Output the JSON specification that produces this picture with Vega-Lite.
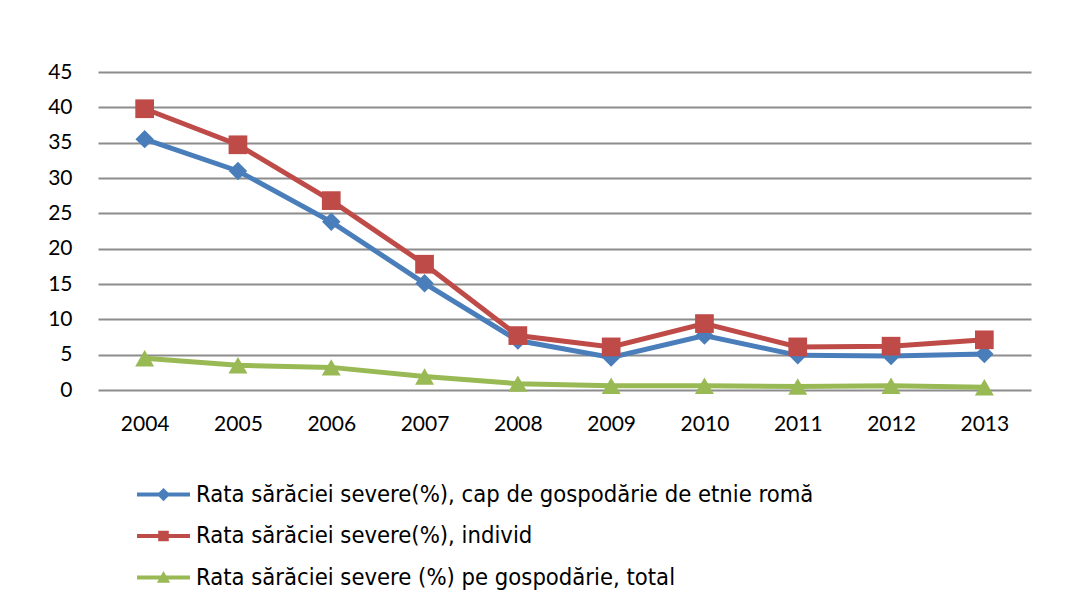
{
  "$schema": "https://vega.github.io/schema/vega-lite/v6.json",
  "autosize": "none",
  "width": 933,
  "height": 318,
  "padding": {"left": 98, "top": 72, "right": 46, "bottom": 200},
  "background": "white",
  "config": {
    "view": {"stroke": null},
    "axis": {"labelFont": "Lato", "labelFontSize": 21, "labelColor": "#000000", "ticks": false, "domain": false, "title": null}
  },
  "data": {
    "values": [
      {"year": "2004", "series": "Rata sărăciei severe(%), cap de gospodărie de etnie romă", "value": 35.5},
      {"year": "2005", "series": "Rata sărăciei severe(%), cap de gospodărie de etnie romă", "value": 31.0},
      {"year": "2006", "series": "Rata sărăciei severe(%), cap de gospodărie de etnie romă", "value": 23.8},
      {"year": "2007", "series": "Rata sărăciei severe(%), cap de gospodărie de etnie romă", "value": 15.1},
      {"year": "2008", "series": "Rata sărăciei severe(%), cap de gospodărie de etnie romă", "value": 7.0},
      {"year": "2009", "series": "Rata sărăciei severe(%), cap de gospodărie de etnie romă", "value": 4.6},
      {"year": "2010", "series": "Rata sărăciei severe(%), cap de gospodărie de etnie romă", "value": 7.7},
      {"year": "2011", "series": "Rata sărăciei severe(%), cap de gospodărie de etnie romă", "value": 4.9},
      {"year": "2012", "series": "Rata sărăciei severe(%), cap de gospodărie de etnie romă", "value": 4.8},
      {"year": "2013", "series": "Rata sărăciei severe(%), cap de gospodărie de etnie romă", "value": 5.1},
      {"year": "2004", "series": "Rata sărăciei severe(%), individ", "value": 39.8},
      {"year": "2005", "series": "Rata sărăciei severe(%), individ", "value": 34.7},
      {"year": "2006", "series": "Rata sărăciei severe(%), individ", "value": 26.8},
      {"year": "2007", "series": "Rata sărăciei severe(%), individ", "value": 17.8},
      {"year": "2008", "series": "Rata sărăciei severe(%), individ", "value": 7.7},
      {"year": "2009", "series": "Rata sărăciei severe(%), individ", "value": 6.1},
      {"year": "2010", "series": "Rata sărăciei severe(%), individ", "value": 9.4},
      {"year": "2011", "series": "Rata sărăciei severe(%), individ", "value": 6.1},
      {"year": "2012", "series": "Rata sărăciei severe(%), individ", "value": 6.2},
      {"year": "2013", "series": "Rata sărăciei severe(%), individ", "value": 7.1},
      {"year": "2004", "series": "Rata sărăciei severe (%) pe gospodărie, total", "value": 4.5},
      {"year": "2005", "series": "Rata sărăciei severe (%) pe gospodărie, total", "value": 3.5},
      {"year": "2006", "series": "Rata sărăciei severe (%) pe gospodărie, total", "value": 3.2},
      {"year": "2007", "series": "Rata sărăciei severe (%) pe gospodărie, total", "value": 1.9},
      {"year": "2008", "series": "Rata sărăciei severe (%) pe gospodărie, total", "value": 0.9},
      {"year": "2009", "series": "Rata sărăciei severe (%) pe gospodărie, total", "value": 0.6},
      {"year": "2010", "series": "Rata sărăciei severe (%) pe gospodărie, total", "value": 0.6},
      {"year": "2011", "series": "Rata sărăciei severe (%) pe gospodărie, total", "value": 0.5},
      {"year": "2012", "series": "Rata sărăciei severe (%) pe gospodărie, total", "value": 0.6},
      {"year": "2013", "series": "Rata sărăciei severe (%) pe gospodărie, total", "value": 0.4}
    ]
  },
  "encoding": {
    "x": {
      "field": "year", "type": "ordinal",
      "scale": {"type": "point", "padding": 0.5},
      "axis": {"labelAngle": 0, "labelPadding": 23, "grid": false}
    },
    "y": {
      "field": "value", "type": "quantitative",
      "scale": {"domain": [0, 45], "nice": false},
      "axis": {"values": [0, 5, 10, 15, 20, 25, 30, 35, 40, 45], "labelPadding": 26, "grid": true, "gridColor": "#8c8c8c", "gridWidth": 2}
    }
  },
  "resolve": {"scale": {"color": "independent", "shape": "independent"}},
  "layer": [
    {
      "mark": {"type": "line", "strokeWidth": 5},
      "encoding": {
        "color": {
          "field": "series", "type": "nominal", "legend": null,
          "scale": {
            "domain": ["Rata sărăciei severe(%), cap de gospodărie de etnie romă", "Rata sărăciei severe(%), individ", "Rata sărăciei severe (%) pe gospodărie, total"],
            "range": ["#4A7EBB", "#BE4B48", "#98B954"]
          }
        }
      }
    },
    {
      "mark": {"type": "point", "filled": true, "opacity": 1},
      "encoding": {
        "color": {
          "field": "series", "type": "nominal", "legend": null,
          "scale": {
            "domain": ["Rata sărăciei severe(%), cap de gospodărie de etnie romă", "Rata sărăciei severe(%), individ", "Rata sărăciei severe (%) pe gospodărie, total"],
            "range": ["#4A7EBB", "#BE4B48", "#98B954"]
          }
        },
        "shape": {
          "field": "series", "type": "nominal", "legend": null,
          "scale": {
            "domain": ["Rata sărăciei severe(%), cap de gospodărie de etnie romă", "Rata sărăciei severe(%), individ", "Rata sărăciei severe (%) pe gospodărie, total"],
            "range": ["diamond", "square", "triangle-up"]
          }
        },
        "size": {
          "field": "series", "type": "nominal", "legend": null,
          "scale": {
            "domain": ["Rata sărăciei severe(%), cap de gospodărie de etnie romă", "Rata sărăciei severe(%), individ", "Rata sărăciei severe (%) pe gospodărie, total"],
            "range": [340, 360, 340]
          }
        }
      }
    },
    {
      "mark": {"type": "point", "filled": true, "opacity": 0, "size": 2809},
      "encoding": {
        "color": {
          "field": "series", "type": "nominal",
          "scale": {
            "domain": ["Rata sărăciei severe(%), cap de gospodărie de etnie romă", "Rata sărăciei severe(%), individ", "Rata sărăciei severe (%) pe gospodărie, total"],
            "range": ["#4A7EBB", "#BE4B48", "#98B954"]
          },
          "legend": {
            "title": null,
            "orient": "none",
            "legendX": 39,
            "legendY": 396,
            "direction": "vertical",
            "columns": 1,
            "padding": 0,
            "symbolOpacity": 1,
            "symbolSize": 2809,
            "symbolStrokeWidth": 0,
            "labelFont": "DejaVu Sans Condensed, Liberation Sans",
            "labelFontSize": 23.6,
            "labelColor": "#000000",
            "labelOffset": 6,
            "labelLimit": 900,
            "rowPadding": 2.5
          }
        },
        "shape": {
          "field": "series", "type": "nominal",
          "scale": {
            "domain": ["Rata sărăciei severe(%), cap de gospodărie de etnie romă", "Rata sărăciei severe(%), individ", "Rata sărăciei severe (%) pe gospodărie, total"],
            "range": [
              "M-1,-0.075H1V0.075H-1Z M0,-0.25L0.25,0L0,0.25L-0.25,0Z",
              "M-1,-0.075H1V0.075H-1Z M-0.2,-0.2H0.2V0.2H-0.2Z",
              "M-1,-0.075H1V0.075H-1Z M0,-0.25L0.25,0.2H-0.25Z"
            ]
          },
          "legend": {
            "title": null,
            "orient": "none",
            "legendX": 39,
            "legendY": 396,
            "direction": "vertical",
            "columns": 1,
            "padding": 0,
            "symbolOpacity": 1,
            "symbolSize": 2809,
            "labelFont": "DejaVu Sans Condensed, Liberation Sans",
            "labelFontSize": 23.6,
            "labelColor": "#000000",
            "labelOffset": 6,
            "labelLimit": 900,
            "rowPadding": 2.5
          }
        }
      }
    }
  ]
}
